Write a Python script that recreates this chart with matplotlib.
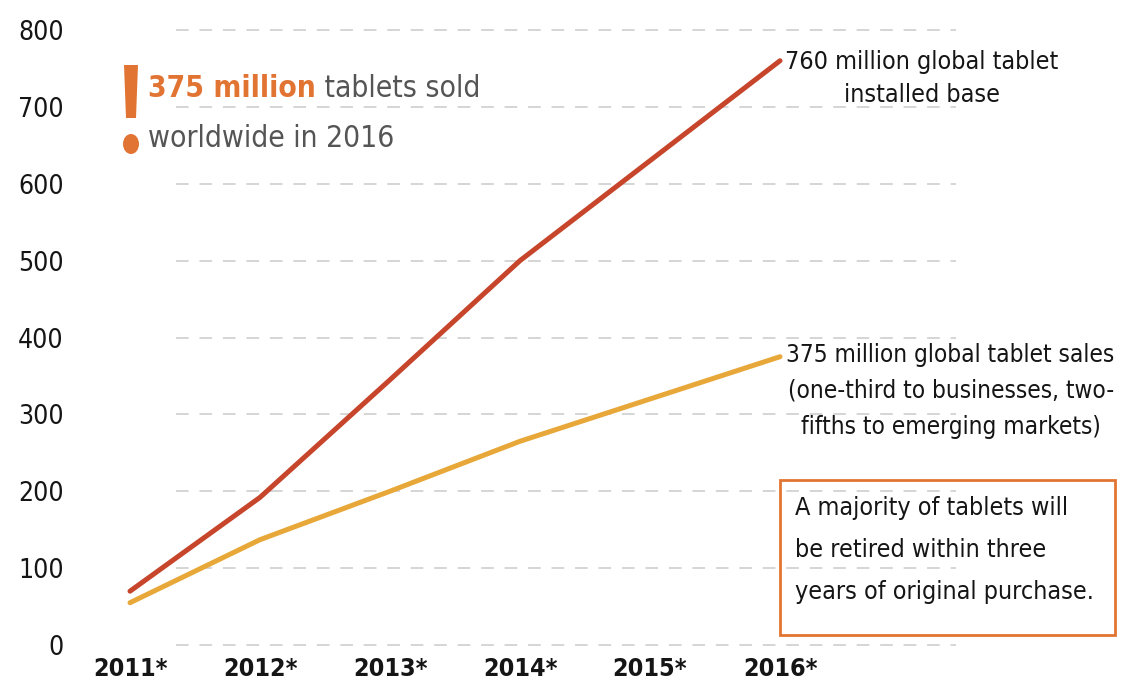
import matplotlib
matplotlib.use("Agg")
import matplotlib.pyplot as plt
from matplotlib.patches import Rectangle, Polygon, Ellipse

# Daten (Millionen Tablets)
years = ["2011*", "2012*", "2013*", "2014*", "2015*", "2016*"]
installed_base = [70, 192, 345, 500, 630, 760]
sales = [55, 137, 200, 265, 320, 375]
y_ticks = [0, 100, 200, 300, 400, 500, 600, 700, 800]

plt.rcParams["font.family"] = ["DejaVu Sans"]
plt.rcParams["font.stretch"] = "condensed"

RED = "#c6452b"
YELLOW = "#e8a839"
ORANGE = "#e27433"
GRAY = "#555555"
TXT = "#151515"

fig = plt.figure(figsize=(11.24, 6.89), dpi=100)
W, H = 1124, 689
ax = fig.add_axes([75 / W, 1 - 660 / H, (1110 - 75) / W, 650 / H])

x = list(range(len(years)))
ax.plot(x, installed_base, color=RED, lw=3.6, solid_capstyle="round", zorder=3)
ax.plot(x, sales, color=YELLOW, lw=3.6, solid_capstyle="round", zorder=3)

# gestrichelte Gitterlinien
for v in y_ticks:
    ax.hlines(v, 0.35, 6.35, colors="#d2d2d2", linestyles=(0, (7, 6)), lw=1.3, zorder=1)

ax.set_xlim(-55 / 130, 5 + 330 / 130)
ax.set_ylim(-15 / 0.76875, 800 + 20 / 0.76875)
ax.set_xticks(x)
ax.set_xticklabels(years, fontsize=18, fontweight="bold", color=TXT)
ax.set_yticks(y_ticks)
ax.set_yticklabels([str(v) for v in y_ticks], fontsize=19, color=TXT)
ax.tick_params(length=0, pad=-2)
ax.tick_params(axis="y", pad=8)
for s in ax.spines.values():
    s.set_visible(False)

# Beschriftungen rechts
ax.text(5.04, (645 - 50) / 0.76875, "760 million global tablet\ninstalled base", ha="left", va="top",
        multialignment="center", fontsize=18, color=TXT, linespacing=1.5)
ax.text(5.05, (645 - 343) / 0.76875,
        "375 million global tablet sales\n(one-third to businesses, two-\nfifths to emerging markets)",
        ha="left", va="top", multialignment="center", fontsize=17.5, color=TXT, linespacing=1.62)

# Kasten
fig.patches.append(Rectangle((780 / W, 1 - 635 / H), 335 / W, 155 / H, transform=fig.transFigure,
                             fill=False, edgecolor=ORANGE, lw=2))
fig.text(795 / W, 1 - 496 / H, "A majority of tablets will\nbe retired within three\nyears of original purchase.",
         ha="left", va="top", fontsize=18, color=TXT, linespacing=1.95)

# Ausrufezeichen oben links
fig.patches.append(Polygon([(124 / W, 1 - 65 / H), (138 / W, 1 - 65 / H), (136 / W, 1 - 118 / H),
                            (126 / W, 1 - 118 / H)], closed=True, transform=fig.transFigure,
                           facecolor=ORANGE, edgecolor="none"))
fig.patches.append(Ellipse((131 / W, 1 - 144 / H), 16 / W, 20 / H, transform=fig.transFigure,
                           facecolor=ORANGE, edgecolor="none"))
t1 = fig.text(148 / W, 1 - 97 / H, "375 million", ha="left", va="baseline", fontsize=21.5,
              fontweight="bold", color=ORANGE)
ax.annotate(" tablets sold", xy=(1, 0), xycoords=t1, ha="left", va="bottom",
            fontsize=21.5, color=GRAY, annotation_clip=False)
fig.text(148 / W, 1 - 147 / H, "worldwide in 2016", ha="left", va="baseline", fontsize=21.5, color=GRAY)

fig.savefig("out.png", dpi=100)
